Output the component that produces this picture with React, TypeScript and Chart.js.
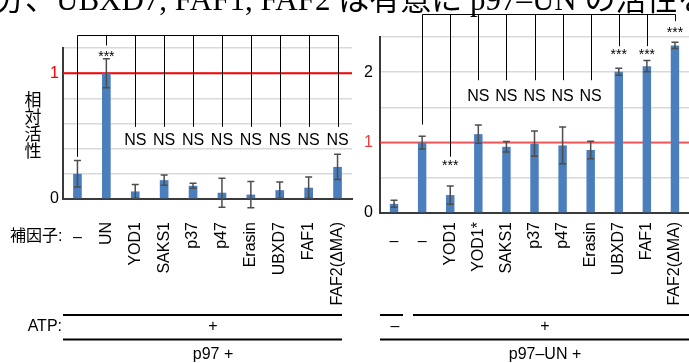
import React, { useEffect, useRef } from 'react';
import { Chart, registerables } from 'chart.js';

Chart.register(...registerables);

// ---------- data ----------
const topText = '分、UBXD7, FAF1, FAF2 は有意に p97–UN の活性を亢進';
const yAxisTitle = '相対活性';
const cofactorLabel = '補因子:';
const atpLabel = 'ATP:';

const leftCategories = ['–', 'UN', 'YOD1', 'SAKS1', 'p37', 'p47', 'Erasin', 'UBXD7', 'FAF1', 'FAF2(ΔMA)'];
const leftValues = [0.2, 1.0, 0.06, 0.15, 0.105, 0.05, 0.035, 0.07, 0.09, 0.255];
const leftErrors = [0.105, 0.115, 0.055, 0.04, 0.02, 0.115, 0.105, 0.065, 0.085, 0.1];
const leftMarks = ['', '***', 'NS', 'NS', 'NS', 'NS', 'NS', 'NS', 'NS', 'NS'];
const leftTickLabels = [0, 1];
const leftAtp = '+';
const leftGroup = 'p97 +';

const rightCategories = ['–', '–', 'YOD1', 'YOD1*', 'SAKS1', 'p37', 'p47', 'Erasin', 'UBXD7', 'FAF1', 'FAF2(ΔMA)'];
const rightValues = [0.13, 1.0, 0.255, 1.12, 0.94, 0.985, 0.96, 0.895, 2.005, 2.085, 2.38];
const rightErrors = [0.05, 0.09, 0.13, 0.13, 0.075, 0.18, 0.26, 0.125, 0.05, 0.08, 0.045];
const rightMarks = ['', '', '***', 'NS', 'NS', 'NS', 'NS', 'NS', '***', '***', '***'];
const rightTickLabels = [0, 1, 2];
const rightAtp = ['–', '+'];
const rightGroup = 'p97–UN +';

// annotation levels (data units)
const leftBracket = { from: 0, to: 9, top: 1.3, ends: [0.335, 1.22, 0.573, 0.573, 0.573, 0.573, 0.573, 0.573, 0.573, 0.573], marks: [0, 1.16, 0.478, 0.478, 0.478, 0.478, 0.478, 0.478, 0.478, 0.478] };
const rightBracket = { from: 1, to: 10, top: 2.83, ends: [0, 1.256, 0.8, 1.886, 1.886, 1.886, 1.886, 1.886, 2.37, 2.37, 2.725], marks: [0, 0, 0.73, 1.673, 1.673, 1.673, 1.673, 1.673, 2.3, 2.3, 2.617] };

// ---------- styles ----------
const SANS = '"Liberation Sans", Arial, "Noto Sans CJK JP", sans-serif';
const CJK = '"Noto Sans CJK JP", sans-serif';
const SERIF = '"Liberation Serif", "DejaVu Serif", "Noto Sans CJK JP", serif';
const BAR = '#4a7ebd';
const ERR = '#4d4d4d';
const GRID = '#d9d9d9';
const AXIS = '#3a3a3a';
const LABEL_TOP = 222;

type Panel = {
  values: number[];
  errors: number[];
  labels: string[];
  marks: string[];
  bracket: { from: number; to: number; top: number; ends: number[]; marks: number[] };
  refColor: string;
  dashY: number;
  extra: (ctx: CanvasRenderingContext2D, chart: any) => void;
};

function panelPlugin(p: Panel) {
  return {
    id: 'panelDecor',
    beforeDatasetsDraw(chart: any) {
      const ctx = chart.ctx as CanvasRenderingContext2D;
      const y = chart.scales.y;
      const a = chart.chartArea;
      const py = y.getPixelForValue(1);
      ctx.save();
      ctx.strokeStyle = p.refColor;
      ctx.lineWidth = 2;
      ctx.beginPath();
      ctx.moveTo(a.left, py);
      ctx.lineTo(a.right, py);
      ctx.stroke();
      ctx.restore();
    },
    afterDatasetsDraw(chart: any) {
      const ctx = chart.ctx as CanvasRenderingContext2D;
      const y = chart.scales.y;
      const meta = chart.getDatasetMeta(0);
      ctx.save();
      // error bars
      ctx.strokeStyle = ERR;
      ctx.lineWidth = 1.5;
      p.values.forEach((v, i) => {
        const cx = meta.data[i].x;
        const t = y.getPixelForValue(v + p.errors[i]);
        const b = y.getPixelForValue(v - p.errors[i]);
        ctx.beginPath();
        ctx.moveTo(cx, t);
        ctx.lineTo(cx, b);
        ctx.moveTo(cx - 3.5, t);
        ctx.lineTo(cx + 3.5, t);
        ctx.moveTo(cx - 3.5, b);
        ctx.lineTo(cx + 3.5, b);
        ctx.stroke();
      });
      // bracket
      const br = p.bracket;
      const topY = Math.round(y.getPixelForValue(br.top)) + 0.5;
      ctx.strokeStyle = '#000';
      ctx.lineWidth = 1;
      ctx.beginPath();
      ctx.moveTo(Math.round(meta.data[br.from].x) + 0.5, topY);
      ctx.lineTo(Math.round(meta.data[br.to].x) + 0.5, topY);
      for (let i = br.from; i <= br.to; i++) {
        const cx = Math.round(meta.data[i].x) + 0.5;
        ctx.moveTo(cx, topY);
        ctx.lineTo(cx, y.getPixelForValue(br.ends[i]));
      }
      ctx.stroke();
      // significance marks
      ctx.fillStyle = '#000';
      ctx.textAlign = 'center';
      ctx.textBaseline = 'alphabetic';
      p.marks.forEach((m, i) => {
        if (!m) return;
        const cx = meta.data[i].x;
        const my = y.getPixelForValue(br.marks[i]);
        if (m === 'NS') {
          ctx.font = `16px ${SANS}`;
          ctx.fillText(m, cx, my + 5.7);
        } else {
          ctx.font = `14px ${SANS}`;
          ctx.fillText(m, cx, my + 8);
        }
      });
      // category labels
      ctx.font = `16px ${SANS}`;
      p.labels.forEach((l, i) => {
        const cx = meta.data[i].x;
        if (l === '–') {
          ctx.textAlign = 'center';
          ctx.textBaseline = 'middle';
          ctx.fillText(l, cx, p.dashY);
        } else {
          ctx.save();
          ctx.translate(cx, LABEL_TOP);
          ctx.rotate(-Math.PI / 2);
          ctx.textAlign = 'right';
          ctx.textBaseline = 'middle';
          ctx.fillText(l, 0, 0);
          ctx.restore();
        }
      });
      p.extra(ctx, chart);
      ctx.restore();
    },
  };
}

function hline(ctx: CanvasRenderingContext2D, x1: number, x2: number, y: number) {
  ctx.beginPath();
  ctx.moveTo(x1, y);
  ctx.lineTo(x2, y);
  ctx.stroke();
}

function makeOptions(max: number, step: number, ticksShown: number[], tickRed: string, yWidth: number, tickPad: number, padding: any) {
  return {
    animation: false as const,
    responsive: false,
    maintainAspectRatio: false,
    layout: { padding },
    plugins: { legend: { display: false }, tooltip: { enabled: false } },
    scales: {
      x: {
        grid: { display: false },
        border: { display: true, color: AXIS, width: 2 },
        ticks: { display: false },
        afterFit: (s: any) => { s.height = 0; },
      },
      y: {
        min: 0,
        max,
        grid: { color: GRID, lineWidth: 1.5, drawTicks: false },
        border: { display: true, color: AXIS, width: 2 },
        ticks: {
          stepSize: step,
          padding: tickPad,
          font: { size: 16, family: SANS },
          color: (c: any) => (Math.abs(c.tick.value - 1) < 1e-6 ? tickRed : '#000'),
          callback: (v: any) => {
            const n = Number(v);
            const hit = ticksShown.find((t) => Math.abs(t - n) < 1e-6);
            return hit === undefined ? '' : String(hit);
          },
        },
        afterFit: (s: any) => { s.width = yWidth; },
      },
    },
  };
}

export default function App() {
  const leftRef = useRef<HTMLCanvasElement>(null);
  const rightRef = useRef<HTMLCanvasElement>(null);

  useEffect(() => {
    const leftPanel: Panel = {
      values: leftValues,
      errors: leftErrors,
      labels: leftCategories,
      marks: leftMarks,
      bracket: leftBracket,
      refColor: '#ff0000',
      dashY: 238,
      extra: (ctx) => {
        // top running text (cropped)
        ctx.fillStyle = '#000';
        ctx.font = `31px ${SERIF}`;
        ctx.textAlign = 'left';
        ctx.textBaseline = 'alphabetic';
        ctx.fillText(topText, -6, 10);
        // y-axis title, stacked
        ctx.font = `17px ${CJK}`;
        ctx.textAlign = 'center';
        ctx.textBaseline = 'middle';
        Array.from(yAxisTitle).forEach((ch, i) => ctx.fillText(ch, 33, 100 + i * 16.8));
        // cofactor row label
        ctx.font = `16px ${SANS}`;
        ctx.textAlign = 'left';
        ctx.fillText(cofactorLabel, 10, 237);
        // table
        ctx.strokeStyle = '#000';
        ctx.lineWidth = 2;
        hline(ctx, 63, 342, 315);
        hline(ctx, 63, 342, 339.5);
        ctx.textAlign = 'right';
        ctx.fillText(atpLabel, 62, 327);
        ctx.textAlign = 'center';
        ctx.fillText(leftAtp, 213, 327);
        ctx.fillText(leftGroup, 213, 355);
      },
    };
    const rightPanel: Panel = {
      values: rightValues,
      errors: rightErrors,
      labels: rightCategories,
      marks: rightMarks,
      bracket: rightBracket,
      refColor: 'rgba(255,40,40,0.75)',
      dashY: 242,
      extra: (ctx) => {
        ctx.strokeStyle = '#000';
        ctx.lineWidth = 2;
        hline(ctx, 20, 43, 315);
        hline(ctx, 53, 329, 315);
        hline(ctx, 20, 329, 339.5);
        ctx.fillStyle = '#000';
        ctx.font = `16px ${SANS}`;
        ctx.textAlign = 'center';
        ctx.textBaseline = 'middle';
        ctx.fillText(rightAtp[0], 35, 327);
        ctx.fillText(rightAtp[1], 185, 327);
        ctx.fillText(rightGroup, 185, 355);
      },
    };

    const left = new Chart(leftRef.current!, {
      type: 'bar',
      data: {
        labels: leftCategories,
        datasets: [{ data: leftValues, backgroundColor: BAR, barPercentage: 0.3, categoryPercentage: 1 }],
      },
      options: makeOptions(1.2, 0.2, leftTickLabels, '#ff0000', 63, 4, { top: 48, bottom: 164, left: 0, right: 337 }) as any,
      plugins: [panelPlugin(leftPanel)],
    });
    const right = new Chart(rightRef.current!, {
      type: 'bar',
      data: {
        labels: rightCategories,
        datasets: [{ data: rightValues, backgroundColor: BAR, barPercentage: 0.3, categoryPercentage: 1 }],
      },
      options: makeOptions(2.5, 0.5, rightTickLabels, '#f03c3c', 20, 7, { top: 37, bottom: 150, left: 0, right: 0 }) as any,
      plugins: [panelPlugin(rightPanel)],
    });
    return () => {
      left.destroy();
      right.destroy();
    };
  }, []);

  return (
    <div style={{ position: 'fixed', left: 0, top: 0, width: 689, height: 363, background: '#fff', overflow: 'hidden' }}>
      <canvas ref={leftRef} width={689} height={363} style={{ position: 'absolute', left: 0, top: 0, width: 689, height: 363 }} />
      <canvas ref={rightRef} width={329} height={363} style={{ position: 'absolute', left: 360, top: 0, width: 329, height: 363 }} />
    </div>
  );
}
